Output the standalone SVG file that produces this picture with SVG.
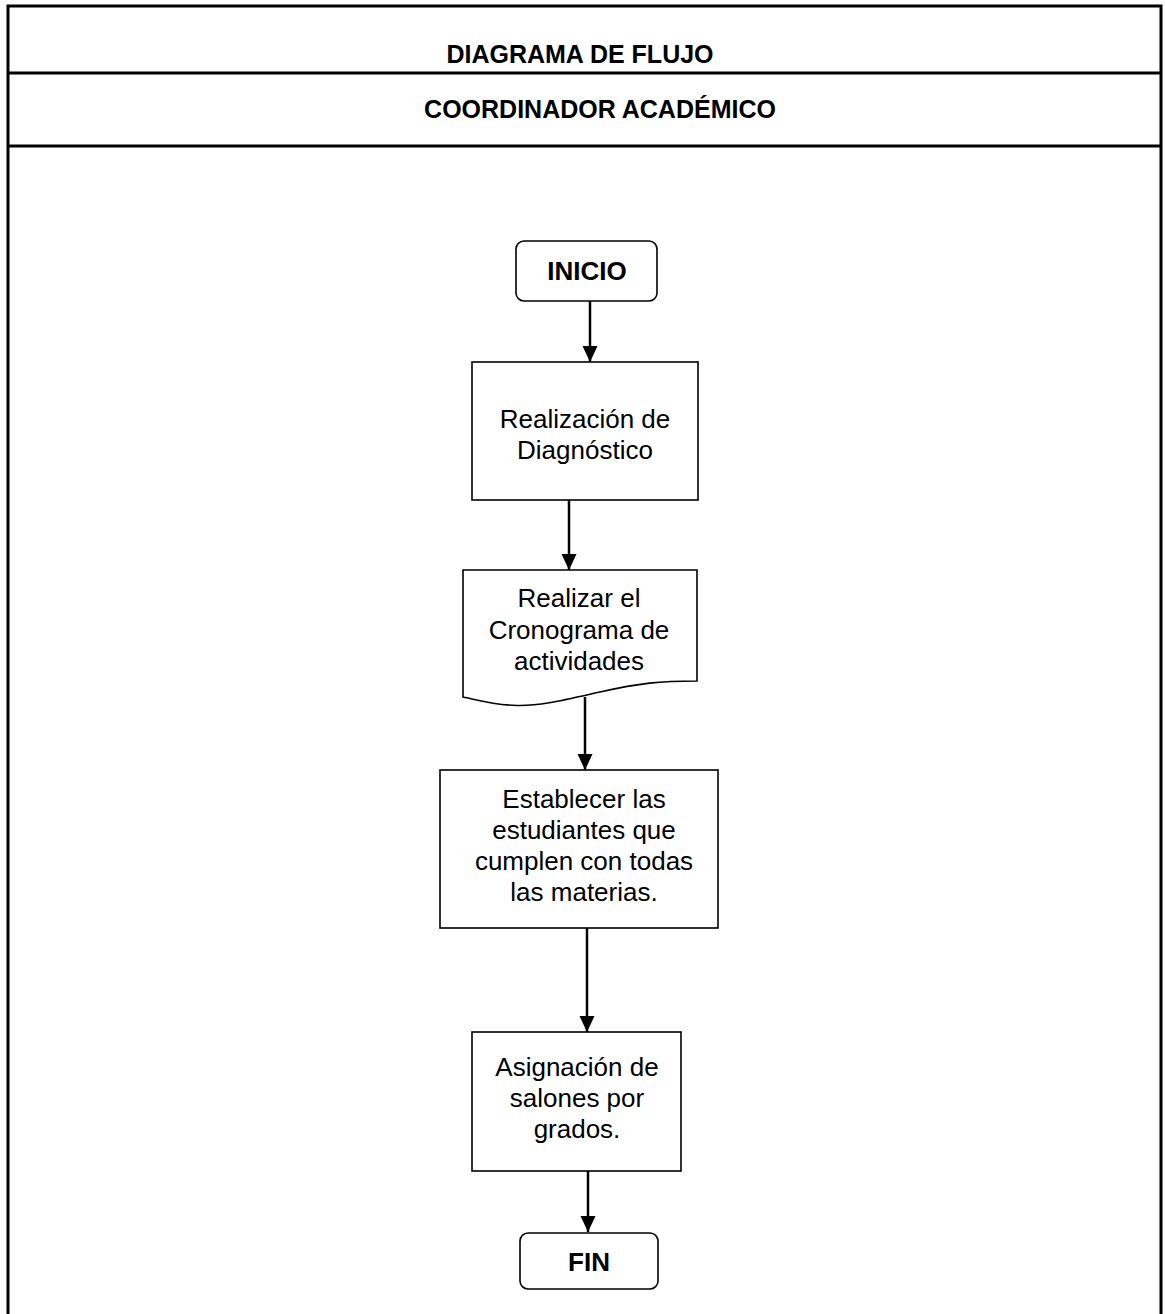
<svg xmlns="http://www.w3.org/2000/svg" width="1165" height="1314" viewBox="0 0 1165 1314">
  <defs>
    <marker id="arrow" markerWidth="16" markerHeight="16" refX="16" refY="7.5" orient="auto" markerUnits="userSpaceOnUse">
      <path d="M0,0 L16,7.5 L0,15 Z" fill="#000"/>
    </marker>
    <style>
      .frame { fill: none; stroke: #000; stroke-width: 3; }
      .node { fill: #fff; stroke: #000; stroke-width: 1.6; }
      .conn { fill: none; stroke: #000; stroke-width: 2.5; marker-end: url(#arrow); }
      .title { font-family: "Liberation Sans", Arial, sans-serif; font-weight: bold; font-size: 25px; text-anchor: middle; fill: #000; }
      .term { font-family: "Liberation Sans", Arial, sans-serif; font-weight: bold; font-size: 26px; text-anchor: middle; fill: #000; }
      .body { font-family: "Liberation Sans", Arial, sans-serif; font-size: 26px; text-anchor: middle; fill: #000; }
    </style>
  </defs>
  <rect width="1165" height="1314" fill="#fff"/>

  <!-- page frame and header rows -->
  <g id="frame">
    <path class="frame" d="M8,1314 V6 H1161 V1314"/>
    <line class="frame" x1="8" y1="73" x2="1161" y2="73"/>
    <line class="frame" x1="8" y1="146" x2="1161" y2="146"/>
    <text class="title" x="580" y="63">DIAGRAMA DE FLUJO</text>
    <text class="title" x="600" y="118">COORDINADOR ACADÉMICO</text>
  </g>

  <!-- connectors -->
  <g id="connectors">
    <line class="conn" x1="590" y1="301" x2="590" y2="362"/>
    <line class="conn" x1="569" y1="500" x2="569" y2="570"/>
    <line class="conn" x1="585" y1="697" x2="585" y2="770"/>
    <line class="conn" x1="587" y1="928" x2="587" y2="1032"/>
    <line class="conn" x1="588" y1="1171" x2="588" y2="1232"/>
  </g>

  <g id="inicio">
    <rect class="node" x="516" y="241" width="141" height="60" rx="8"/>
    <text class="term" x="587" y="280">INICIO</text>
  </g>

  <g id="diagnostico">
    <rect class="node" x="472" y="362" width="226" height="138"/>
    <text class="body" x="585" y="428">Realización de</text>
    <text class="body" x="585" y="459">Diagnóstico</text>
  </g>

  <g id="cronograma">
    <path class="node" d="M463,570 H697 V681 C660,681 640,683 600,692 C560,701 540,706 517,705.5 C495,705 478,700 463,697 Z"/>
    <text class="body" x="579" y="607">Realizar el</text>
    <text class="body" x="579" y="639">Cronograma de</text>
    <text class="body" x="579" y="670">actividades</text>
  </g>

  <g id="establecer">
    <rect class="node" x="440" y="770" width="278" height="158"/>
    <text class="body" x="584" y="808">Establecer las</text>
    <text class="body" x="584" y="839">estudiantes que</text>
    <text class="body" x="584" y="870">cumplen con todas</text>
    <text class="body" x="584" y="901">las materias.</text>
  </g>

  <g id="asignacion">
    <rect class="node" x="472" y="1032" width="209" height="139"/>
    <text class="body" x="577" y="1076">Asignación de</text>
    <text class="body" x="577" y="1107">salones por</text>
    <text class="body" x="577" y="1138">grados.</text>
  </g>

  <g id="fin">
    <rect class="node" x="520" y="1233" width="138" height="56" rx="8"/>
    <text class="term" x="589" y="1271">FIN</text>
  </g>
</svg>
